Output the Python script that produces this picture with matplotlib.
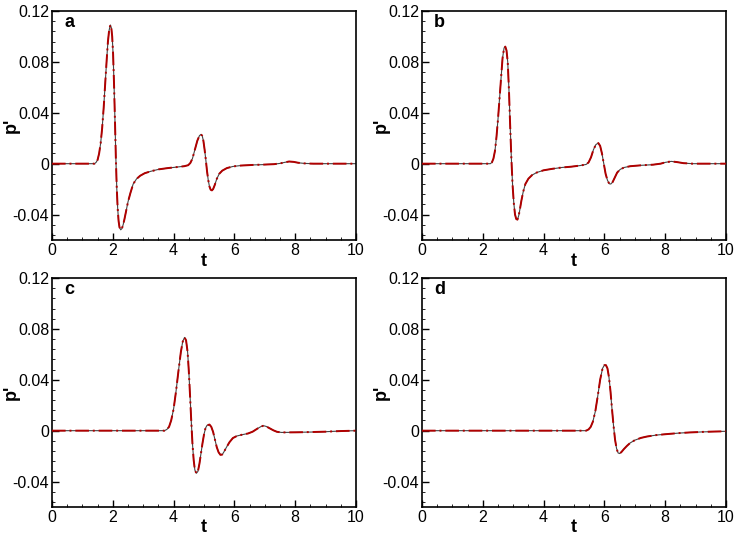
import matplotlib
matplotlib.use("Agg")
import matplotlib.pyplot as plt
from matplotlib.ticker import MultipleLocator, FixedLocator

plt.rcParams['font.family'] = ['Liberation Sans', 'DejaVu Sans']

# Panel a
t_a = [0, 1.0, 1.40, 1.45, 1.50, 1.55, 1.60, 1.65, 1.70, 1.75, 1.80, 1.84, 1.88, 1.92, 1.95,
       1.98, 2.01, 2.04, 2.07, 2.10, 2.13, 2.16, 2.19, 2.22, 2.26, 2.30, 2.34, 2.38, 2.44,
       2.50, 2.58, 2.67, 2.78, 2.90, 3.05, 3.25, 3.5, 3.8, 4.1, 4.35, 4.48, 4.55, 4.62, 4.70,
       4.78, 4.85, 4.90, 4.94, 4.98, 5.02, 5.06, 5.10, 5.14, 5.18, 5.22, 5.26, 5.30, 5.35,
       5.42, 5.50, 5.60, 5.75, 5.95, 6.2, 6.6, 7.0, 7.3, 7.5, 7.65, 7.8, 7.95, 8.1, 8.3,
       8.6, 10.0]
p_a = [0, 0, 0.000, 0.001, 0.003, 0.008, 0.016, 0.028, 0.044, 0.063, 0.082, 0.096, 0.105,
       0.109, 0.107, 0.100, 0.086, 0.063, 0.035, 0.005, -0.019, -0.035, -0.045, -0.050,
       -0.052, -0.051, -0.048, -0.044, -0.037, -0.030, -0.023, -0.016, -0.012, -0.0095,
       -0.0075, -0.006, -0.0045, -0.0035, -0.0027, -0.002, -0.0012, 0.0005, 0.004, 0.011,
       0.018, 0.022, 0.023, 0.022, 0.018, 0.011, 0.003, -0.006, -0.013, -0.018, -0.0205,
       -0.021, -0.020, -0.017, -0.012, -0.008, -0.0055, -0.0035, -0.0022, -0.0015, -0.001,
       -0.0007, -0.0004, 0.0002, 0.001, 0.0017, 0.0014, 0.0007, 0.0002, 0.0, 0.0]

# Panel b
t_b = [0, 2.0, 2.25, 2.30, 2.35, 2.40, 2.45, 2.50, 2.55, 2.60, 2.65, 2.70, 2.74, 2.78, 2.82,
       2.86, 2.90, 2.94, 2.98, 3.02, 3.06, 3.10, 3.14, 3.18, 3.22, 3.27, 3.33, 3.40, 3.50,
       3.62, 3.77, 4.0, 4.3, 4.6, 4.9, 5.2, 5.40, 5.48, 5.56, 5.64, 5.72, 5.80, 5.86, 5.92,
       5.98, 6.04, 6.10, 6.16, 6.21, 6.27, 6.34, 6.42, 6.52, 6.65, 6.85, 7.2, 7.6, 7.85,
       8.0, 8.2, 8.4, 8.6, 8.9, 10.0]
p_b = [0, 0, 0.0, 0.001, 0.004, 0.010, 0.021, 0.035, 0.051, 0.067, 0.083, 0.091, 0.092,
       0.089, 0.080, 0.058, 0.030, 0.004, -0.017, -0.031, -0.040, -0.0435, -0.044, -0.041,
       -0.036, -0.029, -0.022, -0.016, -0.0118, -0.009, -0.007, -0.0052, -0.004, -0.003,
       -0.0024, -0.0015, -0.0006, 0.001, 0.005, 0.011, 0.015, 0.0162, 0.014, 0.008, 0.000,
       -0.008, -0.013, -0.0158, -0.016, -0.0145, -0.011, -0.007, -0.0045, -0.003, -0.002,
       -0.0013, -0.0008, 0.0, 0.001, 0.0018, 0.0012, 0.0004, 0.0, 0.0]

# Panel c
t_c = [0, 3.5, 3.70, 3.78, 3.85, 3.92, 4.00, 4.08, 4.16, 4.24, 4.30, 4.36, 4.41, 4.46, 4.50,
       4.54, 4.58, 4.62, 4.66, 4.70, 4.75, 4.80, 4.85, 4.90, 4.95, 5.00, 5.05, 5.10, 5.18,
       5.24, 5.30, 5.36, 5.42, 5.48, 5.54, 5.60, 5.66, 5.74, 5.84, 5.95, 6.08, 6.25, 6.45,
       6.60, 6.75, 6.88, 6.96, 7.05, 7.15, 7.28, 7.40, 7.55, 8.0, 8.5, 9.0, 9.5, 10.0]
p_c = [0, 0, 0.0, 0.001, 0.003, 0.008, 0.017, 0.031, 0.047, 0.062, 0.070, 0.0733, 0.071,
       0.062, 0.047, 0.028, 0.008, -0.010, -0.023, -0.031, -0.0335, -0.032, -0.026, -0.018,
       -0.010, -0.003, 0.002, 0.0042, 0.0048, 0.003, -0.001, -0.007, -0.013, -0.017, -0.019,
       -0.0188, -0.0165, -0.013, -0.009, -0.0058, -0.0042, -0.0032, -0.0022, -0.0008, 0.0015,
       0.0033, 0.0039, 0.0033, 0.0020, 0.0003, -0.0009, -0.0014, -0.0013, -0.0011, -0.0008,
       -0.0003, 0.0]

# Panel d
t_d = [0, 5.0, 5.40, 5.48, 5.55, 5.62, 5.70, 5.78, 5.86, 5.94, 6.00, 6.05, 6.10, 6.15, 6.20,
       6.25, 6.30, 6.35, 6.40, 6.45, 6.50, 6.56, 6.64, 6.74, 6.85, 7.0, 7.2, 7.4, 7.7, 8.0,
       8.4, 8.8, 9.2, 9.6, 10.0]
p_d = [0, 0, 0.0, 0.001, 0.003, 0.007, 0.015, 0.027, 0.040, 0.049, 0.0515, 0.0515, 0.049,
       0.042, 0.031, 0.017, 0.004, -0.007, -0.014, -0.0175, -0.018, -0.0168, -0.0145, -0.012,
       -0.0096, -0.0075, -0.0057, -0.0046, -0.0035, -0.0028, -0.002, -0.0014, -0.001, -0.0007,
       -0.0005]

labels = ['a', 'b', 'c', 'd']
series = [(t_a, p_a), (t_b, p_b), (t_c, p_c), (t_d, p_d)]
xticks = [0, 2, 4, 6, 8, 10]
yticks = [-0.04, 0, 0.04, 0.08, 0.12]
yticklabels = ['-0.04', '0', '0.04', '0.08', '0.12']

W, H = 739, 538
fig = plt.figure(figsize=(W / 100, H / 100), dpi=100)
boxes = [(52, 11, 356, 240), (422, 11, 726, 240), (52, 278, 356, 507), (422, 278, 726, 507)]

for (l, tp, r, b), lab, (tt, pp) in zip(boxes, labels, series):
    ax = fig.add_axes([l / W, 1 - b / H, (r - l) / W, (b - tp) / H])
    ax.plot(tt, pp, color='#444444', lw=0.8, zorder=2)
    ax.plot(tt, pp, color='#b00000', lw=1.4, ls=(0, (7, 2, 1, 2)), zorder=3)
    ax.set_xlim(0, 10)
    ax.set_ylim(-0.06, 0.12)
    ax.xaxis.set_major_locator(FixedLocator(xticks))
    ax.xaxis.set_minor_locator(MultipleLocator(0.5))
    ax.yaxis.set_major_locator(FixedLocator(yticks))
    ax.set_yticklabels(yticklabels)
    ax.yaxis.set_minor_locator(MultipleLocator(0.008))
    ax.tick_params(which='both', direction='in', top=False, right=False,
                   labelsize=11.5, pad=2, width=1.0)
    ax.tick_params(which='major', length=5)
    ax.tick_params(which='minor', length=2.5, width=0.6)
    for s in ax.spines.values():
        s.set_linewidth(1.2)
    ax.set_xlabel('t', fontsize=13, fontweight='bold')
    ax.xaxis.set_label_coords(0.5, -(253 - b) / (b - tp) if False else -12.5 / (b - tp))
    ax.set_ylabel("p'", fontsize=13, fontweight='bold')
    ylx = (20 - l) if l < 100 else (390 - l)
    ax.yaxis.set_label_coords(ylx / (r - l), 0.5)
    ax.text(0.04, 0.948, lab, transform=ax.transAxes, fontsize=13, fontweight='bold',
            ha='left', va='center')

fig.savefig('out.png', dpi=100)
